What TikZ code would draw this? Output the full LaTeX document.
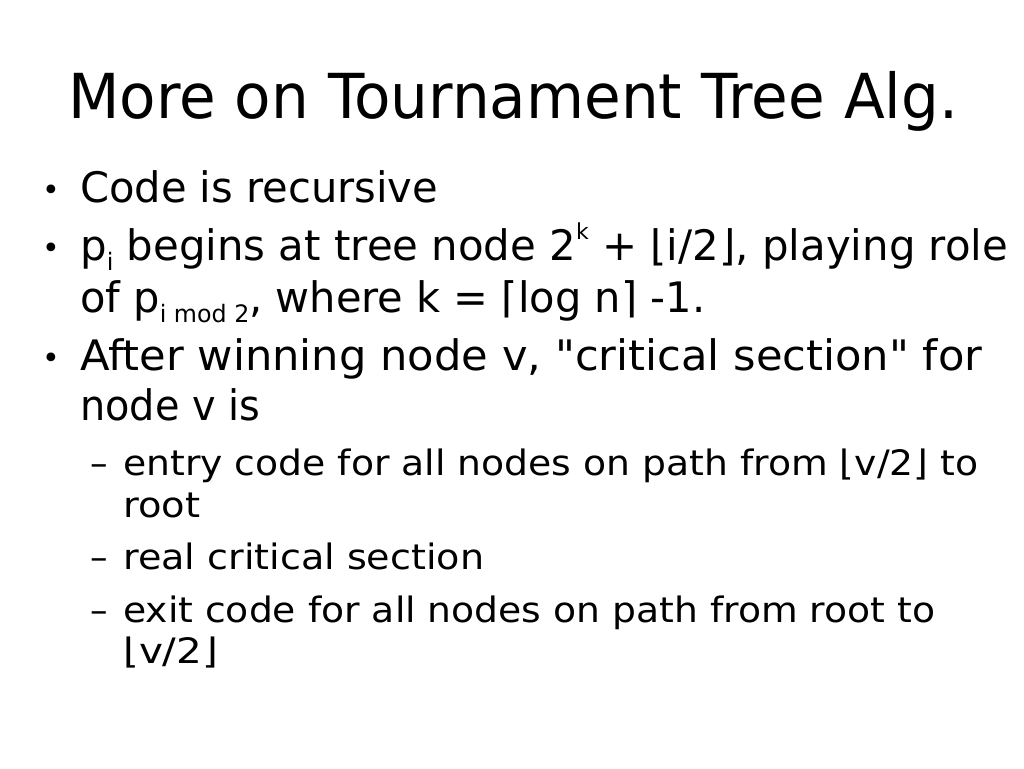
\documentclass[tikz,border=0pt]{standalone}
\usepackage{graphicx}
\usepackage{fontspec}
\setmainfont{DejaVu Sans}
\tikzset{
  title/.style={anchor=base west, inner sep=0pt, font=\fontsize{62}{64}\selectfont},
  body/.style={anchor=base west, inner sep=0pt, font=\fontsize{42}{44}\selectfont},
  sub/.style={anchor=base west, inner sep=0pt, font=\fontsize{35}{37}\selectfont},
  bul/.style={anchor=center, inner sep=0pt, font=\fontsize{30}{30}\selectfont},
}
\newcommand{\fitw}[2]{\resizebox{#1pt}{\height}{#2}}
\newcommand{\sbx}[1]{\raisebox{-0.25em}{\fontsize{24}{24}\selectfont #1}}
\newcommand{\spx}[1]{\raisebox{0.5em}{\fontsize{22}{22}\selectfont #1}}
\newcommand{\dq}{{\addfontfeatures{Ligatures=TeXOff}"}}
\begin{document}
\begin{tikzpicture}[x=1pt,y=-1pt]
\useasboundingbox (0,0) rectangle (1024,768);
\node[title] (t) at (68,118) {\fitw{890}{More on Tournament Tree Alg.}};
\node[bul] (b1) at (51,193) {•};
\node[body] (l1) at (80,202) {\fitw{358}{Code is recursive}};
\node[bul] (b2) at (51,251) {•};
\node[body] (l2) at (80,260) {\fitw{928}{p\sbx{i} begins at tree node 2\spx{k} + ⌊i/2⌋, playing role}};
\node[body] (l3) at (80,312) {\fitw{625}{of p\sbx{i mod 2}, where k = ⌈log n⌉ -1.}};
\node[bul] (b3) at (51,361) {•};
\node[body] (l4) at (80,370) {\fitw{902}{After winning node v, \dq critical section\dq{} for}};
\node[body] (l5) at (80,420) {\fitw{180}{node v is}};
\node[sub] (d1) at (90,475) {–};
\node[sub] (l6) at (123,475) {\fitw{855}{entry code for all nodes on path from ⌊v/2⌋ to}};
\node[sub] (l7) at (123,517) {\fitw{77}{root}};
\node[sub] (d2) at (90,569) {–};
\node[sub] (l8) at (123,569) {\fitw{361}{real critical section}};
\node[sub] (d3) at (90,622) {–};
\node[sub] (l9) at (123,622) {\fitw{812}{exit code for all nodes on path from root to}};
\node[sub] (l10) at (123,663) {\fitw{95}{⌊v/2⌋}};
\end{tikzpicture}
\end{document}
